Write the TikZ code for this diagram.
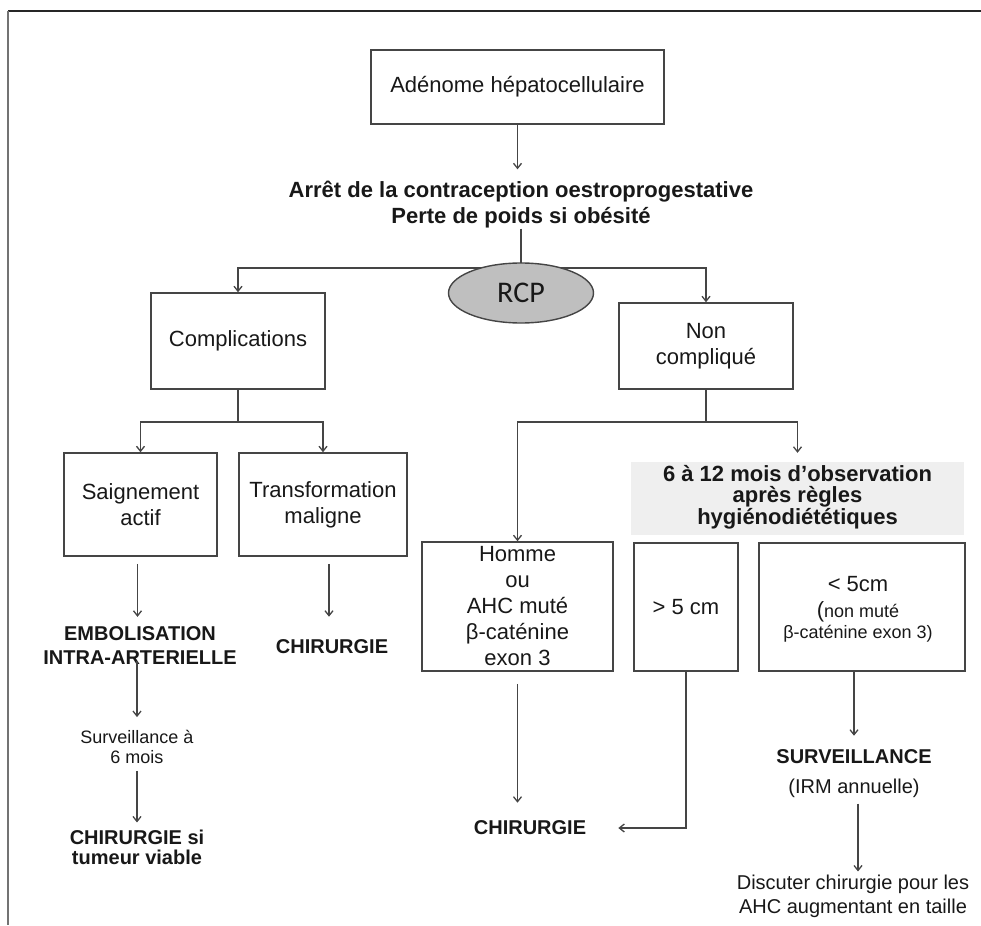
\documentclass[tikz,border=0pt]{standalone}
\usepackage{fontspec}
\setmainfont{Liberation Sans}
\newfontfamily\rcpfont{Carlito}
\usetikzlibrary{arrows.meta,shapes.geometric}
\definecolor{lncol}{HTML}{454545}
\definecolor{txt}{HTML}{181818}
\definecolor{ellfill}{HTML}{BFBFBF}
\definecolor{greyfill}{HTML}{EFEFEF}
\begin{document}
\begin{tikzpicture}[x=1pt,y=-1pt,
  bx/.style={draw=lncol, line width=1.5pt, inner sep=0pt, align=center, text=txt, font=\fontsize{22}{26}\selectfont},
  lbl/.style={inner sep=0pt, align=center, text=txt},
  bold20/.style={lbl, font=\bfseries\fontsize{20}{24}\selectfont},
  arr/.style={draw=lncol, line width=1.3pt, -{Straight Barb[length=5pt,width=8pt]}},
  conn/.style={draw=lncol, line width=1.3pt},
]
\useasboundingbox (0,0) rectangle (981,925);
% frame
\draw[line width=1.6pt, draw=black!85] (981,11) -- (8,11);
\draw[line width=1.6pt, draw=black!55] (8,11) -- (8,925);

% boxes
\node[bx, minimum width=293pt, minimum height=74pt] (adenome) at (517.5,87) {Adénome hépatocellulaire};
\node[lbl, font=\bfseries\fontsize{22}{26}\selectfont] (arret) at (521,205) {Arrêt de la contraception oestroprogestative\\Perte de poids si obésité};
\node[bx, minimum width=174pt, minimum height=96pt] (compl) at (238,341) {Complications};
\node[bx, minimum width=174pt, minimum height=86pt] (noncomp) at (706,346) {Non\\compliqué};
\node[bx, minimum width=153pt, minimum height=103pt] (saign) at (140.5,504.5) {Saignement\\actif};
\node[bx, minimum width=168pt, minimum height=103pt] (transf) at (323,504.5) {Transformation\\maligne};
\node[fill=greyfill, minimum width=333pt, minimum height=73pt, inner sep=0pt] (obs) at (797.5,498.5) {};
\node[lbl, font=\bfseries\fontsize{22}{21.5}\selectfont] (obstext) at (797.5,497) {6 à 12 mois d’observation\\après règles\\hygiénodiététiques};
\node[bx, minimum width=191pt, minimum height=129pt] (homme) at (517.5,606.5) {Homme\\ou\\AHC muté\\β-caténine\\exon 3};
\node[bx, minimum width=104pt, minimum height=128pt] (gt5) at (686,607) {> 5 cm};
\node[bx, minimum width=206pt, minimum height=128pt] (lt5) at (862,607) {};
\node[lbl, font=\fontsize{22}{26}\selectfont] (lt5a) at (858,584) {< 5cm};
\node[lbl, font=\fontsize{18}{22}\selectfont] (lt5b) at (858,612) {{\fontsize{22}{26}\selectfont(}non muté};
\node[lbl, font=\fontsize{18}{22}\selectfont] (lt5c) at (858,634) {β-caténine exon 3)};

% free texts
\node[bold20] (embol) at (140,646) {EMBOLISATION\\INTRA-ARTERIELLE};
\node[bold20] (chir1) at (332,647) {CHIRURGIE};
\node[lbl, font=\fontsize{18}{20}\selectfont] (surv6) at (137,747) {Surveillance à\\6 mois};
\node[lbl, font=\bfseries\fontsize{20}{20}\selectfont] (chirsi) at (137,847) {CHIRURGIE si\\tumeur viable};
\node[bold20] (chir2) at (530,828) {CHIRURGIE};
\node[bold20] (surv) at (854,757) {SURVEILLANCE};
\node[lbl, font=\fontsize{20}{24}\selectfont] (irm) at (854,788) {(IRM annuelle)};
\begin{scope}
\clip (0,0) rectangle (968,925);
\node[lbl, font=\fontsize{20}{24}\selectfont] (disc) at (853,896) {Discuter chirurgie pour les\\AHC augmentant en taille};
\end{scope}

% connectors
\draw[arr, shorten >=12pt] (adenome.south) -- (adenome.south |- arret.north);
\coordinate (j1) at (521,268);
\draw[conn] (arret.south) -- (j1);
\draw[arr] (j1) -| (compl.north);
\draw[arr] (j1) -| (noncomp.north);

\coordinate (j2) at (238,422);
\draw[conn] (compl.south) -- (j2);
\draw[arr] (j2) -| (saign.north);
\draw[arr] (j2) -| (transf.north);

\draw[arr, shorten <=7pt, shorten >=10pt] ([xshift=-3pt]saign.south) -- ([xshift=-3pt]saign.south |- embol.north);
\draw[arr, shorten <=7pt, shorten >=23pt] ([xshift=-3pt]chir1.north |- transf.south) -- ([xshift=-3pt]chir1.north);
\draw[arr, shorten <=-4pt, shorten >=13pt] ([xshift=-3pt]embol.south) -- ([xshift=-3pt]embol.south |- surv6.north);
\draw[arr, shorten <=7pt, shorten >=7pt] (surv6.south) -- (surv6.south |- chirsi.north);

\coordinate (j3) at (706,422);
\draw[conn] (noncomp.south) -- (j3);
\draw[arr] (j3) -| (homme.north);
\draw[arr, shorten >=9pt] (j3) -| (obs.north);

\draw[arr, shorten <=12pt, shorten >=18pt] (homme.south) -- (homme.south |- chir2.north);
\draw[arr, shorten >=32pt] (gt5.south) |- (chir2.east);
\draw[arr, shorten >=14pt] (surv.north |- lt5.south) -- (surv.north);
\draw[arr, shorten <=6pt, shorten >=3pt] ([xshift=4pt]irm.south) -- ([xshift=4pt]irm.south |- disc.north);

% RCP ellipse on top of the junction line
\node[ellipse, draw=lncol, fill=ellfill, line width=1.4pt, minimum width=145pt, minimum height=60pt, inner sep=0pt, text=txt, font=\rcpfont\fontsize{30}{36}\selectfont] (rcp) at (521,293) {RCP};
\end{tikzpicture}
\end{document}
